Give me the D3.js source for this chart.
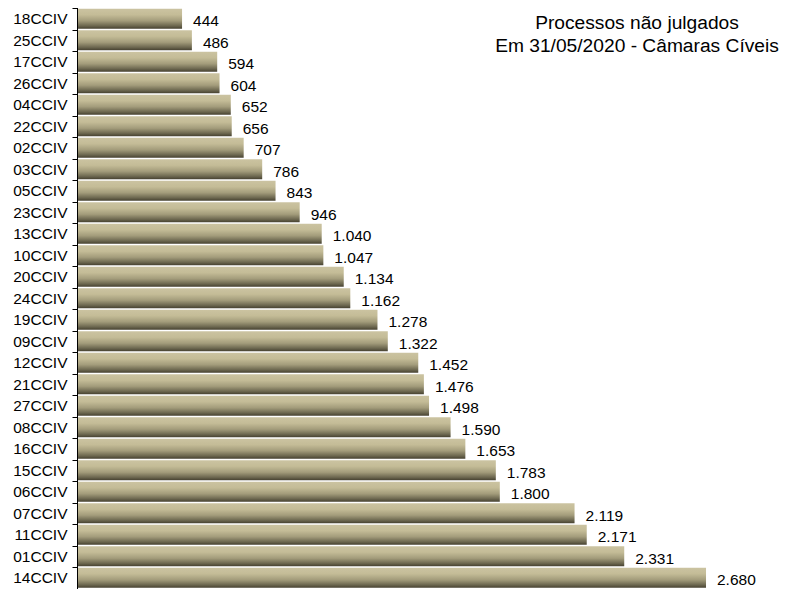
<!DOCTYPE html>
<html>
<head>
<meta charset="utf-8">
<script src="https://cdn.jsdelivr.net/npm/d3@7"></script>
<style>
html,body{margin:0;padding:0;background:#fff;}
svg{display:block;font-family:"Liberation Sans",Arial,sans-serif;}
</style>
</head>
<body>
<svg id="chart" width="785" height="589"></svg>
<script>
const categories = ["18CCIV","25CCIV","17CCIV","26CCIV","04CCIV","22CCIV","02CCIV","03CCIV","05CCIV","23CCIV","13CCIV","10CCIV","20CCIV","24CCIV","19CCIV","09CCIV","12CCIV","21CCIV","27CCIV","08CCIV","16CCIV","15CCIV","06CCIV","07CCIV","11CCIV","01CCIV","14CCIV"];
const values = [444,486,594,604,652,656,707,786,843,946,1040,1047,1134,1162,1278,1322,1452,1476,1498,1590,1653,1783,1800,2119,2171,2331,2680];
const titleLines = ["Processos não julgados","Em 31/05/2020 - Câmaras Cíveis"];

const svg = d3.select("#chart");
const x = d3.scaleLinear().domain([0,3000]).range([78,781]);
const y = d3.scaleBand().domain(categories).range([8,588.5]).paddingInner(0.07).paddingOuter(0.035);

const defs = svg.append("defs");
const grad = defs.append("linearGradient").attr("id","barGrad").attr("x1","0").attr("y1","0").attr("x2","0").attr("y2","1");
[["0%","#cbc3a1"],["30%","#c4bc97"],["60%","#a39c7b"],["85%","#6d6850"],["100%","#464130"]].forEach(s=>{
  grad.append("stop").attr("offset",s[0]).attr("stop-color",s[1]);
});

const fmt = v => d3.format(",")(v).replace(/,/g,".");
const data = categories.map((c,i)=>({c, v: values[i]}));

svg.append("g").selectAll("rect").data(data).join("rect")
  .attr("x", x(0))
  .attr("y", d=>y(d.c))
  .attr("width", d=>x(d.v)-x(0))
  .attr("height", y.bandwidth())
  .attr("fill","url(#barGrad)");

svg.append("g").selectAll("text").data(data).join("text")
  .attr("x", d=>x(d.v)+11)
  .attr("y", d=>y(d.c)+y.bandwidth()/2+2)
  .attr("dy","0.35em")
  .attr("font-size","15.5px")
  .attr("fill","#000")
  .text(d=>fmt(d.v));

// axis
const yAxis = d3.axisLeft(y).tickSize(0).tickPadding(10);
const ag = svg.append("g").attr("transform","translate(77.5,0)").call(yAxis);
ag.select(".domain").remove();
ag.selectAll("text").attr("font-size","15.5px").attr("font-family","'Liberation Sans',Arial,sans-serif").attr("fill","#000").attr("dy","0.35em");
ag.append("line").attr("x1",0).attr("x2",0).attr("y1",8).attr("y2",589).attr("stroke","#000").attr("stroke-width",1);
const boundaries = d3.range(categories.length+1).map(i=>8+i*(580.5/categories.length));
ag.selectAll("line.tk").data(boundaries).join("line").attr("class","tk")
  .attr("x1",-5).attr("x2",0).attr("y1",d=>Math.round(d)+0.5).attr("y2",d=>Math.round(d)+0.5)
  .attr("stroke","#000");

svg.append("g").selectAll("text").data(titleLines).join("text")
  .attr("x",637).attr("y",(d,i)=>29+i*23)
  .attr("text-anchor","middle").attr("font-size","19.2px").attr("fill","#000")
  .text(d=>d);
</script>
</body>
</html>
